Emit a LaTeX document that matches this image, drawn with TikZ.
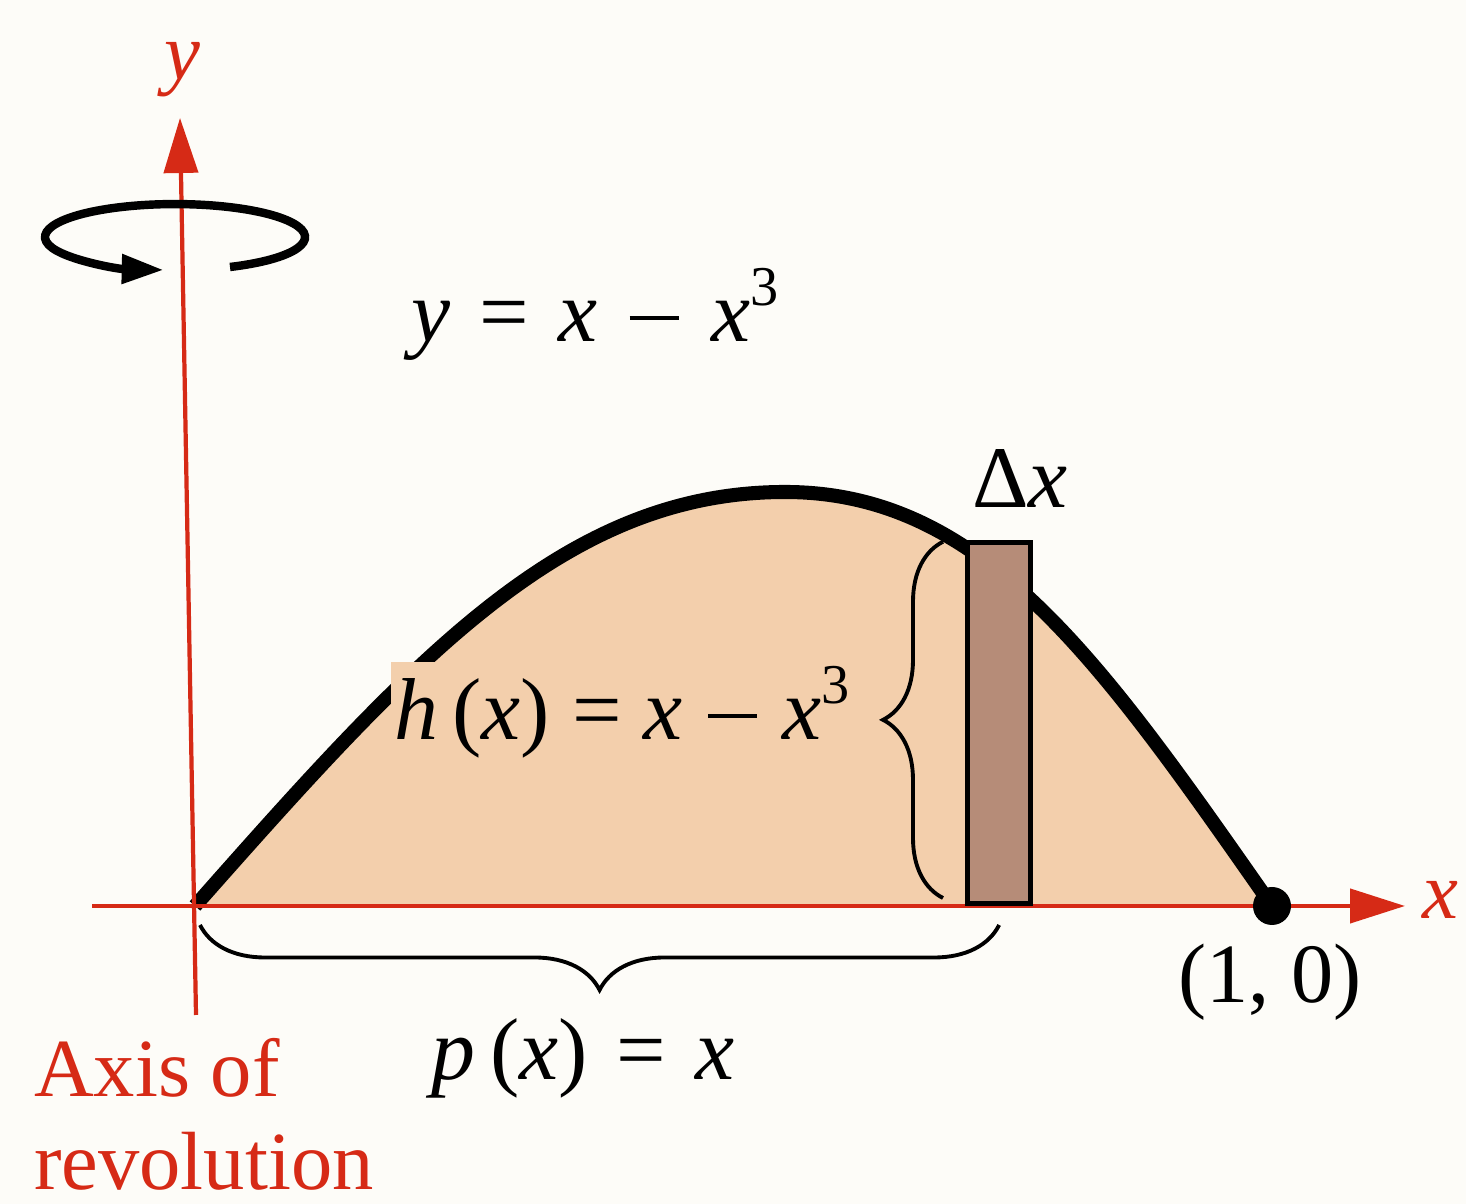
\documentclass[tikz,border=0pt]{standalone}
\usepackage{fontspec}
\setmainfont{Liberation Serif}
\usepackage{xcolor}
\usepackage{tikz}
\definecolor{axisred}{RGB}{214,42,22}
\definecolor{regionpeach}{RGB}{243,207,172}
\definecolor{shellbrown}{RGB}{182,140,120}
\definecolor{paper}{RGB}{253,252,248}
\usetikzlibrary{arrows.meta,positioning,decorations.pathreplacing,calc}
\newcommand{\cubed}{\raisebox{0.42em}{\fontsize{16}{18}\selectfont 3}}
\newcommand{\mgap}{\hspace{0.33em}}
\newcommand{\mminus}{\kern0.04em\rule[0.25em]{0.56em}{0.045em}\kern0.04em}

\begin{document}
\begin{tikzpicture}[
    lbl/.style={font=\fontsize{25}{30}\selectfont, inner sep=1pt},
    redlbl/.style={font=\fontsize{23.5}{28}\selectfont, text=axisred, inner sep=1pt},
    axis/.style={draw=axisred, line width=1.2pt, -{Triangle[length=5.5mm, width=3.4mm]}},
    curve/.style={draw=black, line width=4pt},
    shellbox/.style={rectangle, draw=black, line width=1.5pt, fill=shellbrown, minimum width=0.63cm, minimum height=3.61cm, inner sep=0pt},
    brace/.style={decorate, line width=1.1pt, decoration={brace, amplitude=#1}},
    spin/.style={line width=2.4pt, -{Triangle[length=4.2mm, width=2.8mm]}}
]

% Page
\useasboundingbox[fill=paper] (0,0) rectangle (14.66,12.04);

% Axes points
\coordinate (O) at (1.95,2.98);
\coordinate (xstart) at (0.92,2.98);
\coordinate (xtip) at (14.05,2.98);
\coordinate (ybot) at (1.96,1.89);
\coordinate (ytip) at (1.80,10.86);
\coordinate (top) at (7.85,7.12);
\coordinate (one) at (12.72,2.98);

% Region under y = x - x^3
\path[fill=regionpeach, curve] (O) .. controls (4.15,5.47) and (5.65,7.12) .. (top)
    .. controls (9.85,7.12) and (11.02,5.41) .. (one);

% Axes
\draw[axis] (xstart) -- (xtip);
\draw[axis] (ybot) -- (ytip);

% Rotation about the y-axis
\coordinate (spin0) at (2.30,9.37);
\draw[spin] (spin0) arc[start angle=-65, end angle=265, x radius=1.30, y radius=0.33];

% Representative shell
\node[shellbox, anchor=south west] (shell) at (9.65,2.98) {};
\node[circle, fill=black, minimum size=0.38cm, inner sep=0pt] (endpt) at (one) {};

% Braces
\draw[brace=6mm] ([shift={(-0.22,0.08)}]shell.south west) -- ([shift={(-0.22,-0.02)}]shell.north west);
\draw[brace=6.5mm, decoration={mirror}] ([shift={(0.05,-0.19)}]O) -- ([yshift=-0.19cm]shell.south);

% Labels
\node[redlbl, font=\fontsize{23}{28}\selectfont\itshape] (ylbl) at (1.82,11.34) {y};
\node[redlbl, font=\fontsize{23}{28}\selectfont\itshape] (xlbl) at (14.40,3.04) {x};
\node[lbl, anchor=base] (curvelbl) at (5.95,8.62) {\textit{y}\mgap=\mgap\textit{x}\mgap\mminus\mgap\textit{x}\cubed};
\node[lbl, anchor=base] (dxlbl) at (10.20,6.96) {Δ\textit{x}};
\node[lbl, anchor=base, fill=regionpeach] (hlbl) at (6.22,4.64) {\textit{h}\,(\textit{x}) = \textit{x} \mminus{} \textit{x}\cubed};
\node[lbl, anchor=base] (plbl) at (5.83,1.24) {\textit{p}\,(\textit{x})\mgap=\mgap\textit{x}};
\node[lbl, font=\fontsize{24}{28}\selectfont, anchor=base] (ptlbl) at (12.70,2.01) {(1, 0)};
\node[redlbl, anchor=base west] (axis1) at (0.30,1.07) {Axis of};
\node[redlbl, anchor=base west] (axis2) at ([yshift=-0.93cm]axis1.base west) {revolution};

\end{tikzpicture}
\end{document}
